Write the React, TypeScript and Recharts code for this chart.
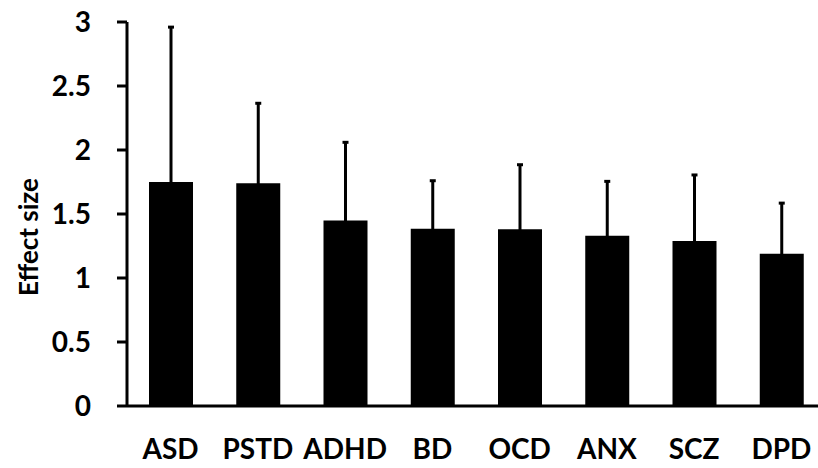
import React from 'react';
import { BarChart, Bar, XAxis, YAxis, ErrorBar } from 'recharts';

const disorders = ['ASD', 'PSTD', 'ADHD', 'BD', 'OCD', 'ANX', 'SCZ', 'DPD'];
const effectSizes = [1.75, 1.74, 1.45, 1.385, 1.38, 1.33, 1.29, 1.19];
const upperErrors = [1.21, 0.625, 0.61, 0.375, 0.505, 0.425, 0.515, 0.395];
const yTicks = [0, 0.5, 1, 1.5, 2, 2.5, 3];

// only the upper whisker is drawn; the lower end stays hidden inside the bar
const data = disorders.map((name, i) => ({
    name,
    value: effectSizes[i],
    err: [0.03, upperErrors[i]],
}));

const FONT = 'Lato, "Open Sans", sans-serif';

const YLabel = (props: any) => {
    const { viewBox } = props;
    const cx = viewBox.x + 28;
    const cy = viewBox.y + viewBox.height / 2 + 23;
    return (
        <text
            x={cx}
            y={cy}
            transform={`rotate(-90, ${cx}, ${cy})`}
            textAnchor="middle"
            dominantBaseline="central"
            fontFamily={FONT}
            fontWeight={700}
            fontSize={26}
            fill="#000"
        >
            Effect size
        </text>
    );
};

const App: React.FC = () => {
    return (
        <div style={{ position: 'absolute', left: 0, top: 0, width: 818, height: 468, overflow: 'hidden', background: '#fff' }}>
            <BarChart
                width={825}
                height={468}
                data={data}
                margin={{ top: 22, right: 0, bottom: 0, left: 0 }}
                barSize={44}
            >
                <XAxis
                    dataKey="name"
                    height={62}
                    axisLine={{ stroke: '#000', strokeWidth: 3 }}
                    tickLine={false}
                    tickSize={0}
                    tickMargin={33}
                    interval={0}
                    tick={{ fill: '#000', fontSize: 28, fontWeight: 700, fontFamily: FONT }}
                />
                <YAxis
                    width={127}
                    domain={[0, 3]}
                    ticks={yTicks}
                    allowDataOverflow
                    axisLine={{ stroke: '#000', strokeWidth: 3 }}
                    tickLine={{ stroke: '#000', strokeWidth: 3 }}
                    tickSize={10}
                    tickMargin={26}
                    tick={{ fill: '#000', fontSize: 28, fontWeight: 700, fontFamily: FONT }}
                    label={<YLabel />}
                />
                <Bar dataKey="value" fill="#000" isAnimationActive={false}>
                    <ErrorBar dataKey="err" direction="y" stroke="#000" strokeWidth={3} width={3} isAnimationActive={false} />
                </Bar>
            </BarChart>
        </div>
    );
};

export default App;
